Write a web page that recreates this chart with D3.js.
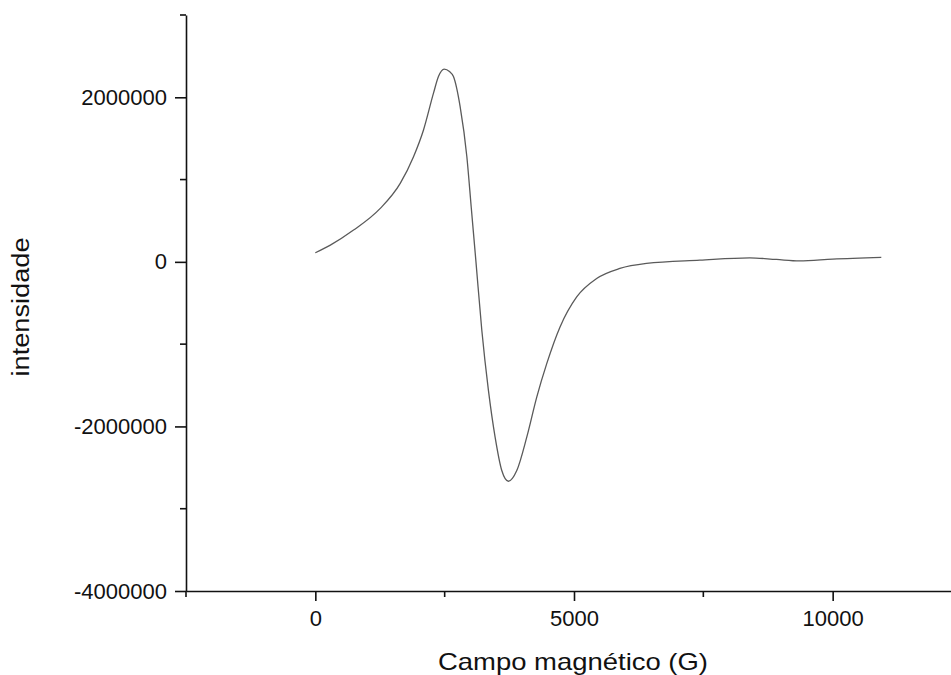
<!DOCTYPE html>
<html>
<head>
<meta charset="utf-8">
<script src="https://cdn.jsdelivr.net/npm/d3@7"></script>
<style>
  html, body { margin: 0; padding: 0; background: #fff; }
  svg { display: block; }
  text { font-family: "Liberation Sans", Arial, sans-serif; fill: #111; }
</style>
</head>
<body>
<svg id="chart" width="951" height="675"></svg>
<script>
// Magnetic field (G)
const fieldG = [0, 290, 739, 1255, 1641, 1898, 2091, 2284, 2380, 2490, 2593, 2670, 2799, 2929, 3016, 3105, 3218, 3346, 3475, 3604, 3732, 3894, 4087, 4280, 4473, 4730, 5052, 5438, 5887, 6402, 7432, 8398, 8913, 9357, 10000, 10940];
// Intensity
const intensity = [110000, 203000, 386000, 650000, 954000, 1278000, 1603000, 2050000, 2252000, 2342000, 2313000, 2252000, 1887000, 1278000, 645000, 0, -831000, -1562000, -2130000, -2536000, -2666000, -2536000, -2130000, -1643000, -1237000, -791000, -426000, -202000, -80000, -19000, 21000, 49000, 29000, 12000, 33000, 54000];

const xMajorTicks = [0, 5000, 10000];
const xMinorTicks = [-2500, 2500, 7500, 12500];
const yMajorTicks = [-4000000, -2000000, 0, 2000000];
const yMinorTicks = [-3000000, -1000000, 1000000, 3000000];

const xTitle = "Campo magnético (G)";
const yTitle = "intensidade";

const svg = d3.select("#chart");
const mLeft = 186, mRight = 962, mTop = 15, mBottom = 591;

const x = d3.scaleLinear().domain([-2500, 12500]).range([mLeft, mRight]);
const y = d3.scaleLinear().domain([-4000000, 3000000]).range([mBottom, mTop]);

const fmt = d => String(d);

// Axes
const xAxis = d3.axisBottom(x).tickValues(xMajorTicks).tickSize(10).tickSizeOuter(0).tickPadding(9).tickFormat(fmt);
const yAxis = d3.axisLeft(y).tickValues(yMajorTicks).tickSize(11).tickSizeOuter(0).tickPadding(8).tickFormat(fmt);

const gx = svg.append("g").attr("transform", `translate(0,${mBottom})`).call(xAxis);
const gy = svg.append("g").attr("transform", `translate(${mLeft},0)`).call(yAxis);

[gx, gy].forEach(g => {
  g.select(".domain").attr("stroke", "#111").attr("stroke-width", 1.6);
  g.selectAll(".tick line").attr("stroke", "#111").attr("stroke-width", 1.6);
  g.selectAll(".tick text").attr("font-size", 22).attr("fill", "#111")
    .attr("font-family", '"Liberation Sans", Arial, sans-serif');
});

// Minor ticks
gx.selectAll(".minor").data(xMinorTicks).enter().append("line")
  .attr("class", "minor")
  .attr("x1", d => x(d)).attr("x2", d => x(d))
  .attr("y1", 0).attr("y2", 6)
  .attr("stroke", "#111").attr("stroke-width", 1.6);
gy.selectAll(".minor").data(yMinorTicks).enter().append("line")
  .attr("class", "minor")
  .attr("y1", d => y(d)).attr("y2", d => y(d))
  .attr("x1", 0).attr("x2", -6)
  .attr("stroke", "#111").attr("stroke-width", 1.6);

// Curve
const data = fieldG.map((f, i) => [f, intensity[i]]);
const line = d3.line().x(d => x(d[0])).y(d => y(d[1])).curve(d3.curveMonotoneX);
svg.append("path").datum(data)
  .attr("d", line)
  .attr("fill", "none")
  .attr("stroke", "#5a5a5a")
  .attr("stroke-width", 1.3);

// Titles
svg.append("text")
  .attr("x", 573).attr("y", 670)
  .attr("text-anchor", "middle")
  .attr("font-size", 24)
  .attr("textLength", 270).attr("lengthAdjust", "spacingAndGlyphs")
  .text(xTitle);

svg.append("text")
  .attr("transform", `translate(29,307) rotate(-90)`)
  .attr("text-anchor", "middle")
  .attr("font-size", 23)
  .attr("textLength", 139).attr("lengthAdjust", "spacingAndGlyphs")
  .text(yTitle);
</script>
</body>
</html>
